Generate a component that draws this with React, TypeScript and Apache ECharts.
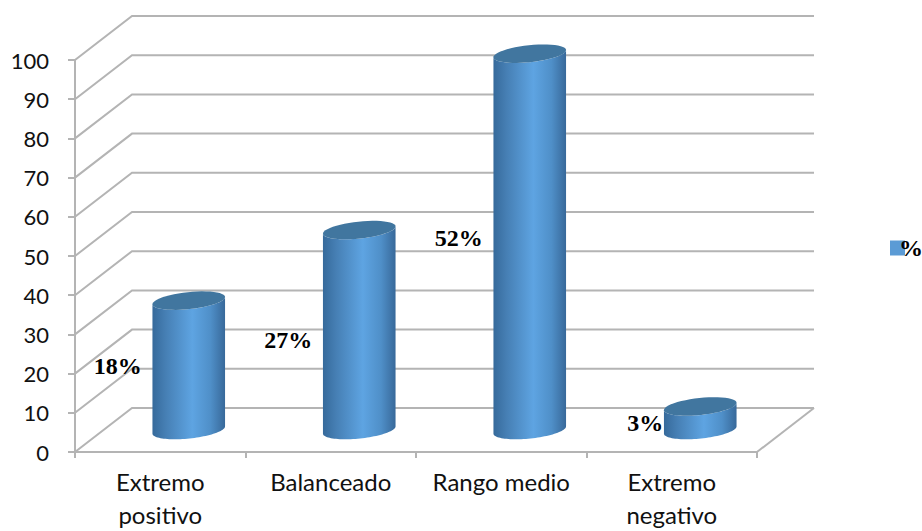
import React, { useEffect, useRef } from "react";
import * as echarts from "echarts";

const categories = ["Extremo\npositivo", "Balanceado", "Rango medio", "Extremo\nnegativo"];
const seriesValues = [33, 51, 96, 6];
const percentLabels = ["18%", "27%", "52%", "3%"];
const yTicks = [0, 10, 20, 30, 40, 50, 60, 70, 80, 90, 100];
const legendName = "%";

const DEPTH_X = 57;
const DEPTH_Y = -44;
const RX = 36.5;
const RY = 8.5;
const TILT = -6;
const LABEL_NUDGE = [
  [-71, 1],
  [-71, 10],
  [-71, -4],
  [-55, 5],
];
const GRID_COLOR = "#b4b4b4";

function ellipseArc(cx: number, cy: number, fromDeg: number, toDeg: number) {
  const t = (TILT * Math.PI) / 180;
  const pts: number[][] = [];
  const steps = 48;
  for (let s = 0; s <= steps; s++) {
    const a = ((fromDeg + ((toDeg - fromDeg) * s) / steps) * Math.PI) / 180;
    const px = RX * Math.cos(a);
    const py = RY * Math.sin(a);
    pts.push([cx + px * Math.cos(t) - py * Math.sin(t), cy + px * Math.sin(t) + py * Math.cos(t)]);
  }
  return pts;
}

function wallItem(params: any, api: any) {
  const v = api.value(1);
  const cs = params.coordSys;
  const p = api.coord([0, v]);
  const x0 = cs.x;
  const y0 = p[1];
  return {
    type: "polyline",
    shape: {
      points: [
        [x0, y0],
        [x0 + DEPTH_X, y0 + DEPTH_Y],
        [x0 + cs.width + DEPTH_X, y0 + DEPTH_Y],
      ],
    },
    style: { stroke: GRID_COLOR, lineWidth: 2, fill: "none" },
  };
}

function floorItem(params: any, api: any) {
  const cs = params.coordSys;
  const base = api.coord([0, 0])[1];
  const xr = cs.x + cs.width;
  return {
    type: "line",
    shape: { x1: xr, y1: base, x2: xr + DEPTH_X, y2: base + DEPTH_Y },
    style: { stroke: GRID_COLOR, lineWidth: 2 },
  };
}

function barItem(params: any, api: any) {
  const i = params.dataIndex;
  const top = api.coord([i, api.value(1)]);
  const base = api.coord([i, 0]);
  const cx = top[0] + DEPTH_X / 2;
  const ty = top[1] + DEPTH_Y / 2;
  const by = base[1] + DEPTH_Y / 2;
  // body outline: front half of the top ellipse, then front half of the base ellipse reversed
  const body = [...ellipseArc(cx, ty, 180, 0), ...ellipseArc(cx, by, 0, 180)];
  const cap = ellipseArc(cx, ty, 0, 360);
  const nudge = LABEL_NUDGE[i];
  return {
    type: "group",
    children: [
      {
        type: "polygon",
        shape: { points: body },
        style: {
          fill: new echarts.graphic.LinearGradient(0, 0, 1, 0, [
            { offset: 0, color: "#366a9b" },
            { offset: 0.18, color: "#467fb4" },
            { offset: 0.55, color: "#5ea4e2" },
            { offset: 0.8, color: "#4f8fc8" },
            { offset: 1, color: "#38699a" },
          ]),
        },
      },
      {
        type: "polygon",
        shape: { points: cap },
        style: { fill: "#41769f" },
      },
      {
        type: "text",
        style: {
          x: cx + nudge[0],
          y: (ty + by) / 2 + nudge[1],
          text: percentLabels[i],
          align: "center",
          verticalAlign: "middle",
          fill: "#000",
          font: "bold 24px 'Liberation Serif'",
        },
      },
    ],
  };
}

export default function App() {
  const ref = useRef<HTMLDivElement>(null);
  useEffect(() => {
    const chart = echarts.init(ref.current!, undefined, { renderer: "svg" });
    chart.setOption({
      animation: false,
      backgroundColor: "#fff",
      grid: { left: 75, top: 60, width: 682, height: 392, containLabel: false, outerBoundsMode: "none" },
      legend: {
        data: [{ name: legendName, icon: "rect", itemStyle: { color: "#5b9bd5" } }],
        left: 890,
        top: 236,
        itemWidth: 15,
        itemHeight: 15,
        itemGap: 0,
        padding: 0,
        textStyle: {
          fontFamily: "Liberation Serif",
          fontWeight: "bold",
          fontSize: 24,
          color: "#000",
          padding: [0, 0, 0, -11],
        },
      },
      xAxis: {
        type: "category",
        data: categories,
        axisLine: { lineStyle: { color: GRID_COLOR, width: 2 } },
        axisTick: { show: true, length: 6, lineStyle: { color: GRID_COLOR, width: 2 } },
        axisLabel: {
          color: "#111",
          fontFamily: "Lato",
          fontSize: 24,
          lineHeight: 33,
          margin: 13,
          interval: 0,
        },
        splitLine: { show: false },
      },
      yAxis: {
        type: "value",
        min: 0,
        max: 100,
        interval: 10,
        axisLine: { show: true, lineStyle: { color: GRID_COLOR, width: 2 } },
        axisTick: { show: true, length: 7, lineStyle: { color: GRID_COLOR, width: 2 } },
        axisLabel: {
          color: "#111",
          fontFamily: "Lato",
          fontSize: 22,
          margin: 26,
        },
        splitLine: { show: false },
      },
      series: [
        {
          type: "custom",
          name: "walls",
          coordinateSystem: "cartesian2d",
          renderItem: wallItem,
          data: yTicks.map((v) => [0, v]),
          silent: true,
          z: 1,
        },
        {
          type: "custom",
          name: "floor",
          coordinateSystem: "cartesian2d",
          renderItem: floorItem,
          data: [[0, 0]],
          silent: true,
          z: 1,
        },
        {
          type: "custom",
          name: legendName,
          coordinateSystem: "cartesian2d",
          renderItem: barItem,
          itemStyle: { color: "#5b9bd5" },
          data: seriesValues.map((v, i) => [i, v]),
          z: 3,
        },
      ],
    });
    return () => chart.dispose();
  }, []);
  return <div ref={ref} style={{ position: "absolute", left: 0, top: 0, width: 922, height: 531 }} />;
}
